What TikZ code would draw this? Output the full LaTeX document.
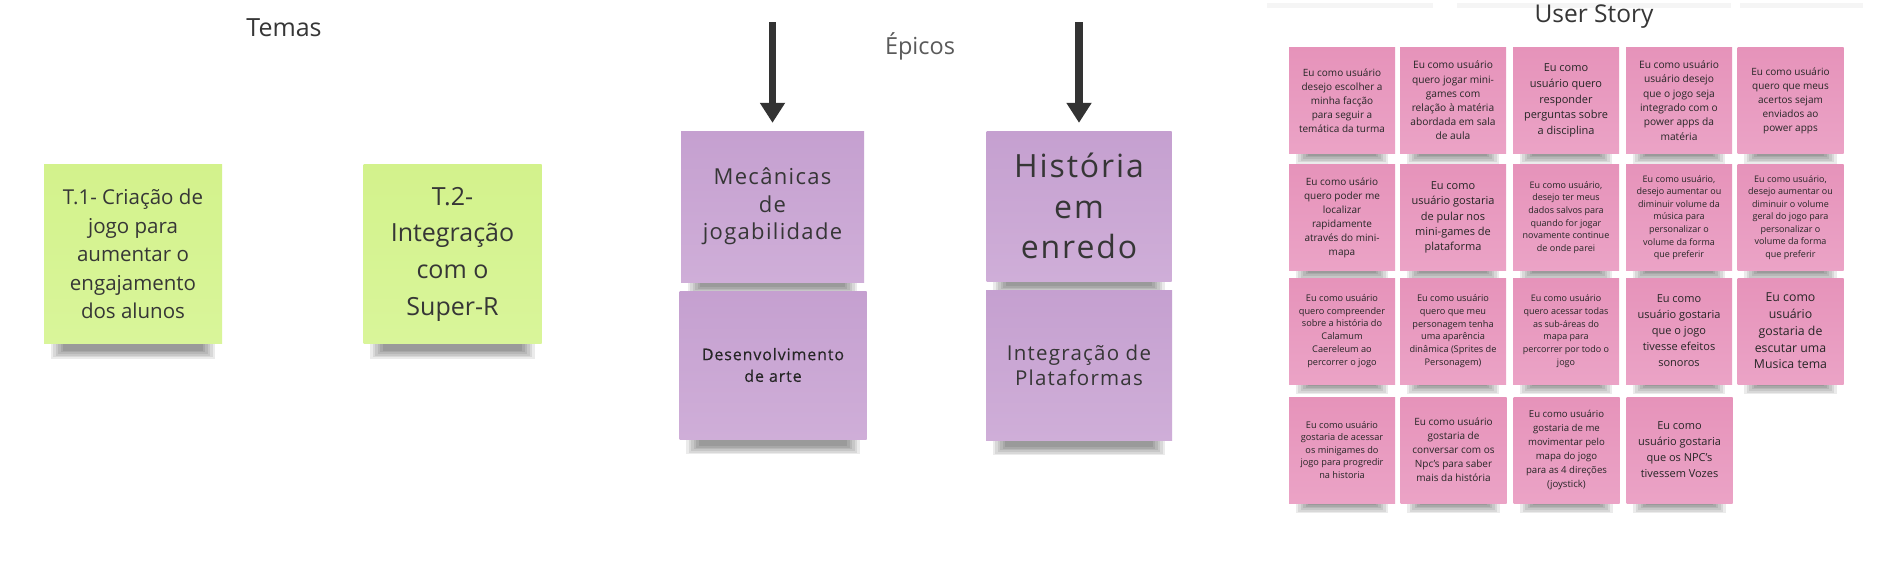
\documentclass[tikz,border=0pt]{standalone}
\usepackage{fontspec}
\setmainfont{Open Sans}
\newfontfamily\epicfont[LetterSpace=6]{Open Sans}
\newfontfamily\epicheavy[LetterSpace=5.5,FakeBold=0.3]{Open Sans}
\usetikzlibrary{arrows.meta,calc,backgrounds}
\definecolor{inkc}{HTML}{363636}
\definecolor{darkc}{HTML}{262626}
\definecolor{greyc}{HTML}{5A5A5A}
\definecolor{arrowc}{HTML}{333333}
\definecolor{gA}{HTML}{D3F28C}
\definecolor{gB}{HTML}{D9F59A}
\definecolor{pA}{HTML}{C5A0D0}
\definecolor{pB}{HTML}{CFAED8}
\definecolor{kA}{HTML}{E693BA}
\definecolor{kB}{HTML}{EBA3C6}
\newcommand\fs[2]{\fontsize{#1}{#2}\selectfont}
\newcommand\noteshadow[2]{%
  \foreach \k in {0,...,5}{%
    \fill[black,opacity=0.08] ($(#1.south west)+(7+2.5*\k,-3)$) rectangle ($(#1.south east)+(-7-2.5*\k,#2-1.6*\k)$);
  }}
\tikzset{
  note/.style={inner sep=0pt, align=center, text=inkc},
  themenote/.style={note, top color=gA, bottom color=gB, minimum width=178pt, minimum height=179pt},
  epicnote/.style={note, top color=pA, bottom color=pB, minimum width=185pt, minimum height=150pt},
  storynote/.style={note, text=darkc, top color=kA, bottom color=kB, minimum width=106pt, minimum height=106pt},
  heading/.style={text=inkc, inner sep=0pt, font=\fs{25}{30}},
  bigarrow/.style={draw=arrowc, line width=7.5pt, -{Triangle[width=24pt,length=20pt]}},
}
\begin{document}
\begin{tikzpicture}[x=1pt,y=-1pt]
\useasboundingbox (0,0) rectangle (1901,571);

% headings
\node[heading] (temas) at (284,28) {Temas};
\node[heading, text=greyc, font=\fs{23.5}{28}] (epicos) at (920,46) {Épicos};
\node[heading, font=\fs{24.5}{30}] (ustory) at (1594,17) {User Story};

% themes
\node[themenote, font=\fs{20.5}{28.5}] (t1) at (133,254) {T.1- Criação de\\jogo para\\aumentar o\\engajamento\\dos alunos};
\node[themenote, font=\fs{25}{36.7}] (t2) at (452.5,254) {T.2-\\Integração\\com o\\Super-R};

% epics
\node[epicnote, minimum width=183pt, minimum height=151pt, font=\epicfont\fs{22}{27.5}] (mec) at (772.5,206.5) {Mecânicas\\de\\jogabilidade};
\node[epicnote, font=\epicfont\fs{32}{40.8}] (hist) at (1079,206) {História\\em\\enredo};
\node[epicnote, text=darkc, minimum width=187pt, minimum height=148pt, font=\epicheavy\fs{16}{21.7}] (desen) at (773,365) {Desenvolvimento\\de arte};
\node[epicnote, minimum width=186pt, font=\epicfont\fs{20.5}{25}] (integ) at (1079,365) {Integração de\\Plataformas};

\coordinate (arr1) at (mec.north |- 0,22);
\coordinate (arr2) at (hist.north |- 0,22);
\draw[bigarrow, shorten >=8pt] (arr1) -- (mec.north);
\draw[bigarrow, shorten >=8pt] (arr2) -- (hist.north);

% user stories
\node[storynote, font=\fs{10}{14}] (s11) at (1342,100.5) {Eu como usuário\\desejo escolher a\\minha facção\\para seguir a\\temática da turma};
\node[storynote, font=\fs{10.2}{14.2}] (s12) at (1453,100.5) {Eu como usuário\\quero jogar mini-\\games com\\relação à matéria\\abordada em sala\\de aula};
\node[storynote, font=\fs{11}{15.6}] (s13) at (1566,100.5) {Eu como\\usuário quero\\responder\\perguntas sobre\\a disciplina};
\node[storynote, font=\fs{10.2}{14.3}] (s14) at (1679,100.5) {Eu como usuário\\usuário desejo\\que o jogo seja\\integrado com o\\power apps da\\matéria};
\node[storynote, font=\fs{10}{14}] (s15) at (1790.5,100.5) {Eu como usuário\\quero que meus\\acertos sejam\\enviados ao\\power apps};

\node[storynote, font=\fs{10}{14}] (s21) at (1342,217.5) {Eu como usário\\quero poder me\\localizar\\rapidamente\\através do mini-\\mapa};
\node[storynote, font=\fs{11}{15.3}] (s22) at (1453,217.5) {Eu como\\usuário gostaria\\de pular nos\\mini-games de\\plataforma};
\node[storynote, font=\fs{9}{12.7}] (s23) at (1566,217.5) {Eu como usuário,\\desejo ter meus\\dados salvos para\\quando for jogar\\novamente continue\\de onde parei};
\node[storynote, font=\fs{9}{12.6}] (s24) at (1679,217.5) {Eu como usuário,\\desejo aumentar ou\\diminuir volume da\\música para\\personalizar o\\volume da forma\\que preferir};
\node[storynote, font=\fs{9}{12.5}] (s25) at (1790.5,217.5) {Eu como usuário,\\desejo aumentar ou\\diminuir o volume\\geral do jogo para\\personalizar o\\volume da forma\\que preferir};

\node[storynote, font=\fs{9.2}{12.9}] (s31) at (1342,331) {Eu como usuário\\quero compreender\\sobre a história do\\Calamum\\Caereleum ao\\percorrer o jogo};
\node[storynote, font=\fs{9.2}{12.7}] (s32) at (1453,331) {Eu como usuário\\quero que meu\\personagem tenha\\uma aparência\\dinâmica (Sprites de\\Personagem)};
\node[storynote, font=\fs{9}{12.7}] (s33) at (1566,331) {Eu como usuário\\quero acessar todas\\as sub-áreas do\\mapa para\\percorrer por todo o\\jogo};
\node[storynote, font=\fs{11}{16}] (s34) at (1679,331) {Eu como\\usuário gostaria\\que o jogo\\tivesse efeitos\\sonoros};
\node[storynote, font=\fs{12.3}{16.8}] (s35) at (1790.5,331) {Eu como\\usuário\\gostaria de\\escutar uma\\Musica tema};

\node[storynote, font=\fs{9.2}{12.5}] (s41) at (1342,450) {Eu como usuário\\gostaria de acessar\\os minigames do\\jogo para progredir\\na historia};
\node[storynote, font=\fs{10}{14}] (s42) at (1453.5,450) {Eu como usuário\\gostaria de\\conversar com os\\Npc's para saber\\mais da história};
\node[storynote, font=\fs{9.6}{14}] (s43) at (1566.5,450) {Eu como usuário\\gostaria de me\\movimentar pelo\\mapa do jogo\\para as 4 direções\\(joystick)};
\node[storynote, font=\fs{11}{16}] (s44) at (1679.5,450) {Eu como\\usuário gostaria\\que os NPC's\\tivessem Vozes};

\begin{scope}[on background layer]
  \fill[white] (0,0) rectangle (1901,571);
  \fill[black!4] (1267,3) rectangle (1433,8);
  \fill[black!4] (1457,3) rectangle (1731,8);
  \fill[black!4] (1740,3) rectangle (1863,8);
  \noteshadow{t1}{15}
  \noteshadow{t2}{15}
  \noteshadow{mec}{13}
  \noteshadow{hist}{13}
  \noteshadow{desen}{15}
  \noteshadow{integ}{15}
  \foreach \n in {s11,s12,s13,s14,s15,s21,s22,s23,s24,s25,s31,s32,s33,s34,s35,s41,s42,s43,s44}{
    \noteshadow{\n}{10}
  }
\end{scope}
\end{tikzpicture}
\end{document}
